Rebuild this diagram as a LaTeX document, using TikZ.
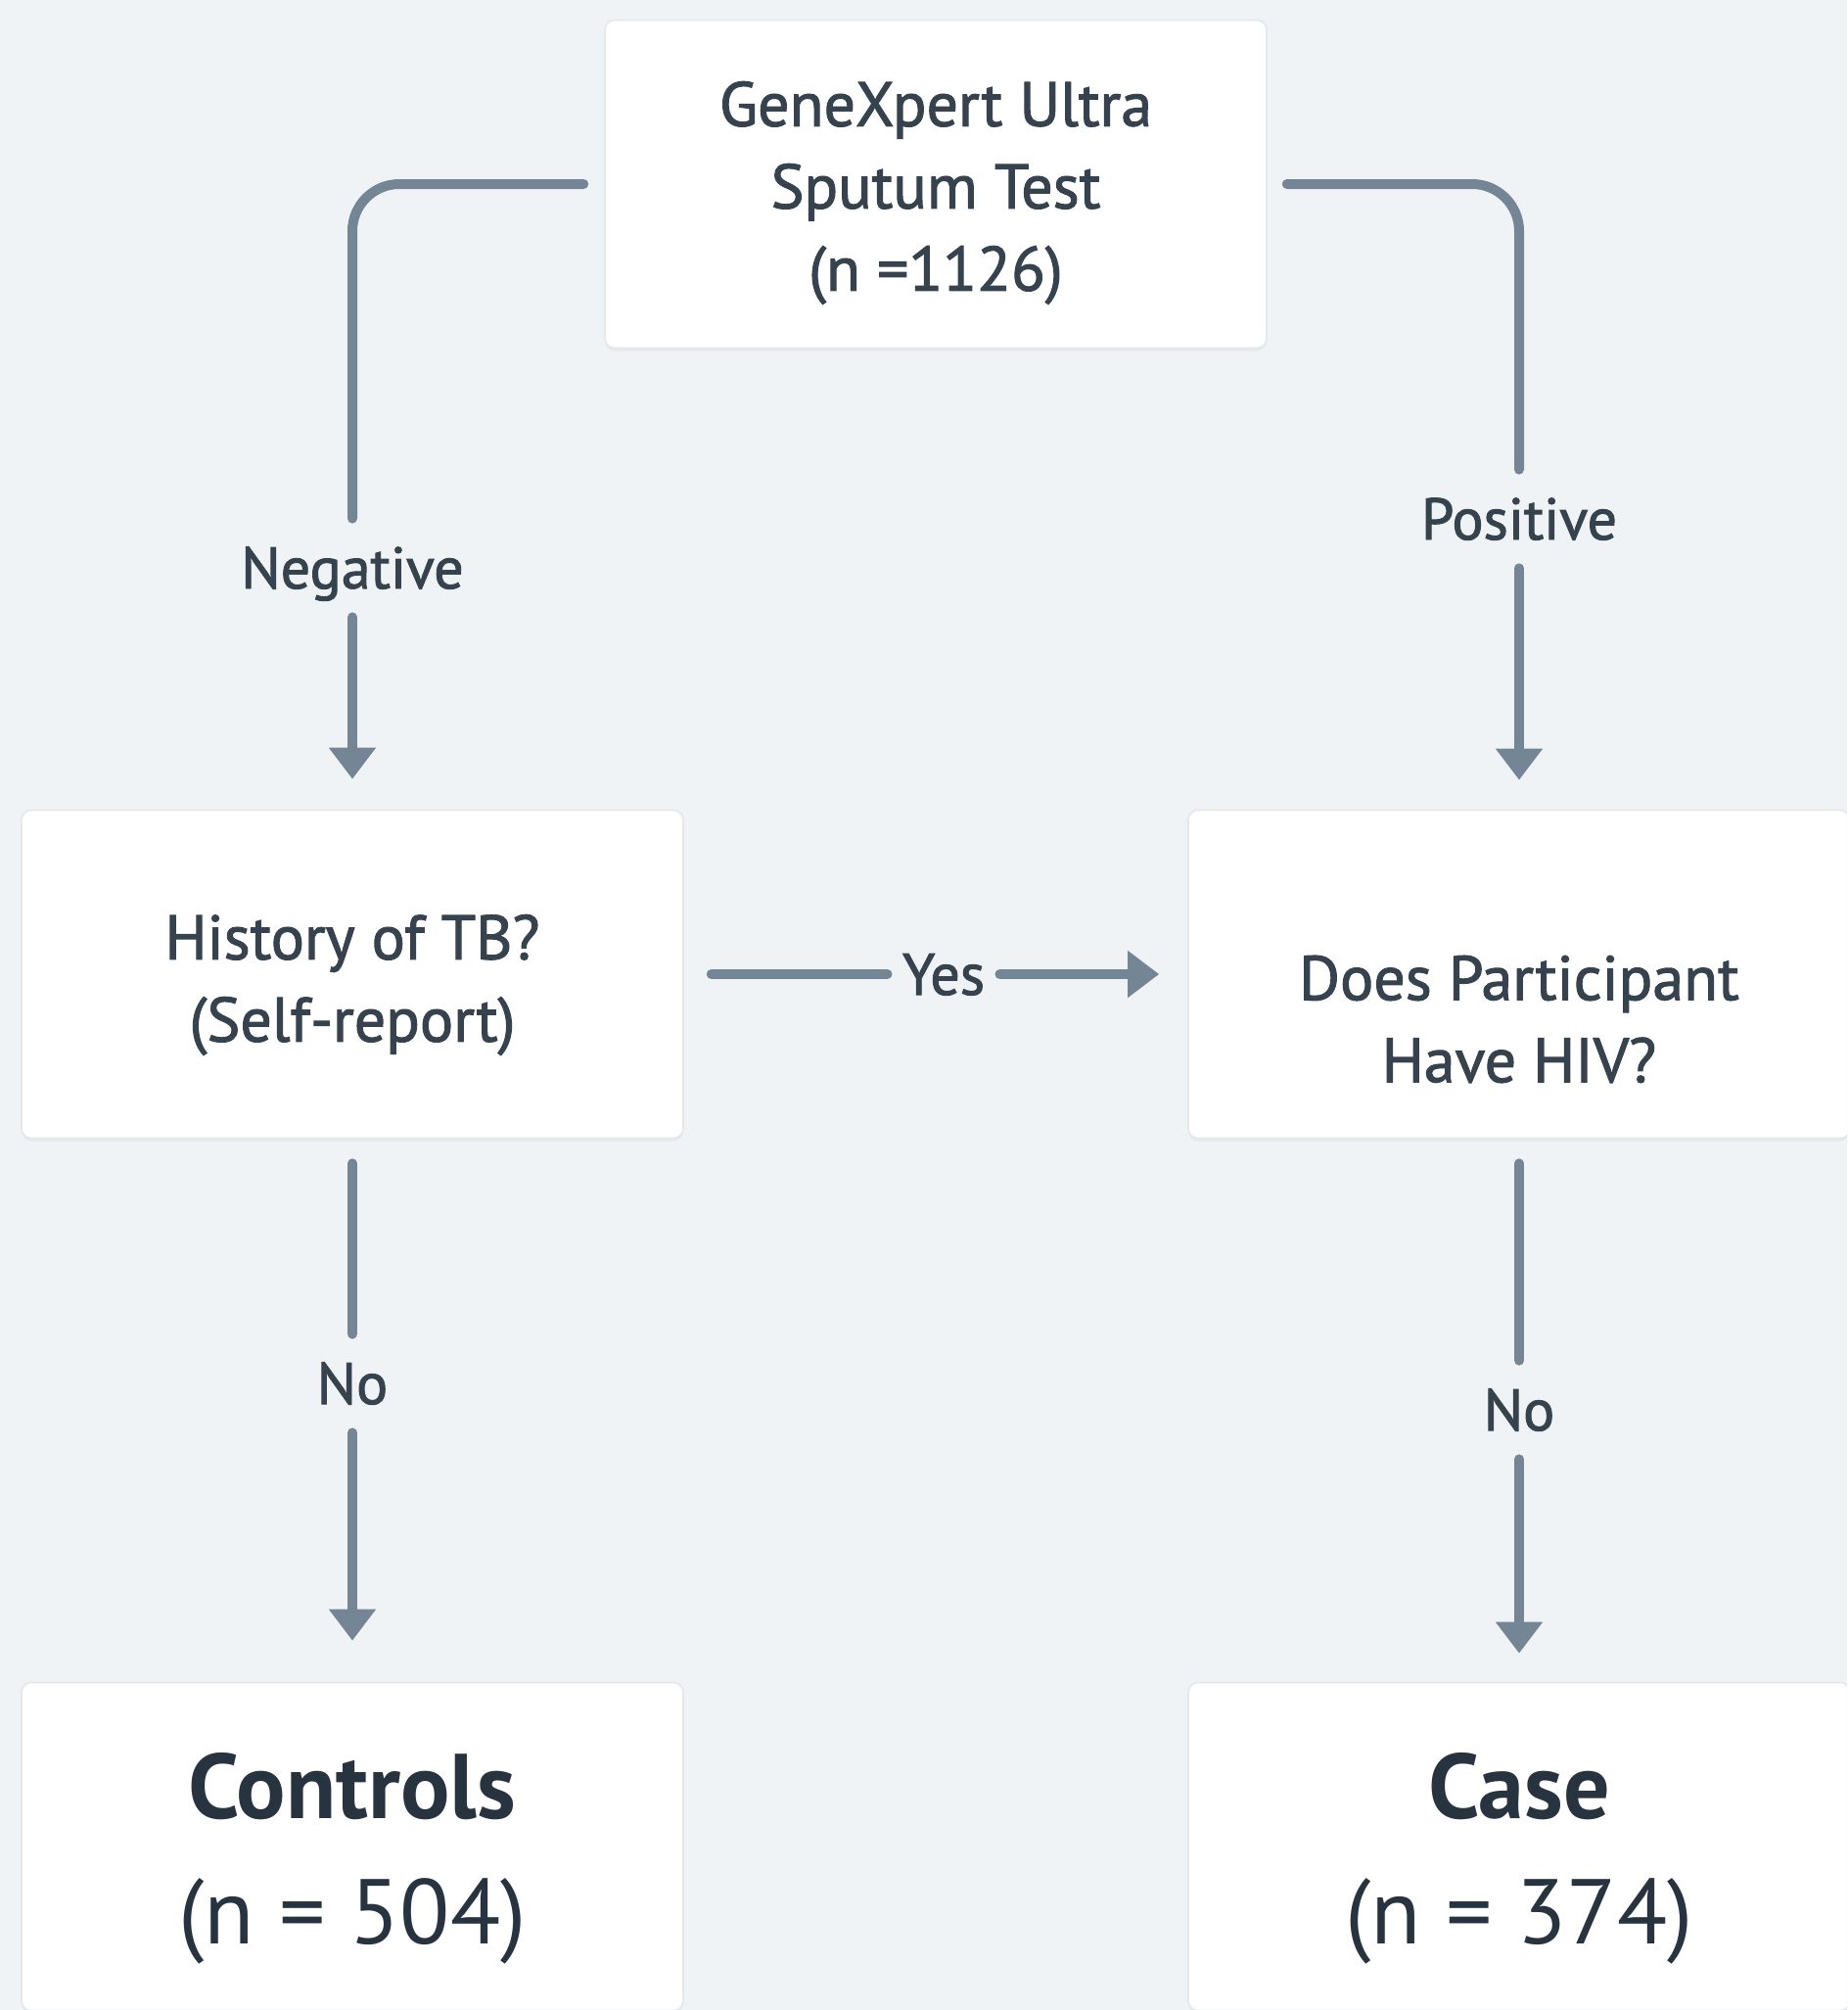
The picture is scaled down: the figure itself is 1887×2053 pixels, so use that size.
\documentclass[tikz,border=0pt]{standalone}
\usepackage{fontspec}
\setmainfont{PT Sans}
\newfontfamily\medfont{PT Sans}[FakeBold=1.6]
\usepackage{xcolor}
\usetikzlibrary{arrows.meta,shadows}
\definecolor{bgpanel}{HTML}{EFF3F6}
\definecolor{connector}{HTML}{748595}
\definecolor{inktext}{HTML}{36424D}
\definecolor{inkbold}{HTML}{27333F}
\definecolor{boxedge}{HTML}{E3E8ED}

\begin{document}
\begin{tikzpicture}[x=0.5pt,y=-0.5pt,line cap=round,>={Triangle[width=23pt,length=16pt]},
  box/.style={rectangle,rounded corners=5pt,fill=white,draw=boxedge,line width=0.8pt,
    minimum width=338pt,minimum height=167.5pt,inner sep=0pt,
    drop shadow={shadow xshift=0pt,shadow yshift=-1.5pt,opacity=0.08}},
  boxtext/.style={align=center,text=inktext,font=\medfont\fontsize{32}{42}\selectfont,inner sep=0pt},
  result/.style={align=center,text=inkbold,font=\fontsize{47}{64}\selectfont,inner sep=0pt},
  branch/.style={fill=bgpanel,text=inktext,font=\medfont\fontsize{30}{36}\selectfont,
    text height=21pt,text depth=0pt,inner xsep=7.5pt,inner ysep=14.5pt},
  conn/.style={draw=connector,line width=5pt}]
% canvas in pixels of the figure
  \useasboundingbox (0,0) rectangle (1887,2053);
  \fill[bgpanel] (0,0) rectangle (1887,2053);
  \clip (0,0) rectangle (1887,2053);
% boxes
  \node[box] (test) at (956,188) {};
  \node[box] (hist) at (360,995) {};
  \node[box] (hiv) at (1552,995) {};
  \node[box] (ctrl) at (360,1886) {};
  \node[box] (case) at (1552,1886) {};
% box texts
  \node[boxtext] (testq) at ([yshift=-4.5pt]test.center) {GeneXpert Ultra\\Sputum Test\\(n =1126)};
  \node[boxtext] (histq) at ([yshift=-5.5pt]hist.center) {History of TB?\\(Self-report)};
  \node[boxtext] (hivq) at ([yshift=-23pt]hiv.center) {Does Participant\\Have HIV?};
  \node[result] (ctrlq) at ([yshift=-6pt]ctrl.center) {\textbf{Controls}\\(n = 504)};
  \node[result] (caseq) at ([yshift=-6pt]case.center) {\textbf{Case}\\(n = 374)};
% branch labels
  \node[branch] (neg) at (360,580) {Negative};
  \node[branch] (pos) at (1552,530) {Positive};
  \node[branch] (yes) at (964,995) {Yes};
  \node[branch] (noL) at (360,1413) {No};
  \node[branch] (noR) at (1552,1440) {No};
% connectors
  \draw[conn,rounded corners=24pt,shorten <=10.5pt] (test.west) -| (neg);
  \draw[conn,->,shorten >=15.5pt] (neg) -- (hist);
  \draw[conn,rounded corners=24pt,shorten <=10pt] (test.east) -| (pos);
  \draw[conn,->,shorten >=15pt] (pos) -- (hiv);
  \draw[conn,shorten <=14pt] (hist) -- (yes);
  \draw[conn,->,shorten >=14.5pt] (yes) -- (hiv);
  \foreach \from/\lbl/\to/\gap in {hist/noL/ctrl/21pt, hiv/noR/case/14.5pt} {
    \draw[conn,shorten <=12.5pt] (\from) -- (\lbl);
    \draw[conn,->,shorten >=\gap] (\lbl) -- (\to);
  }
\end{tikzpicture}
\end{document}
